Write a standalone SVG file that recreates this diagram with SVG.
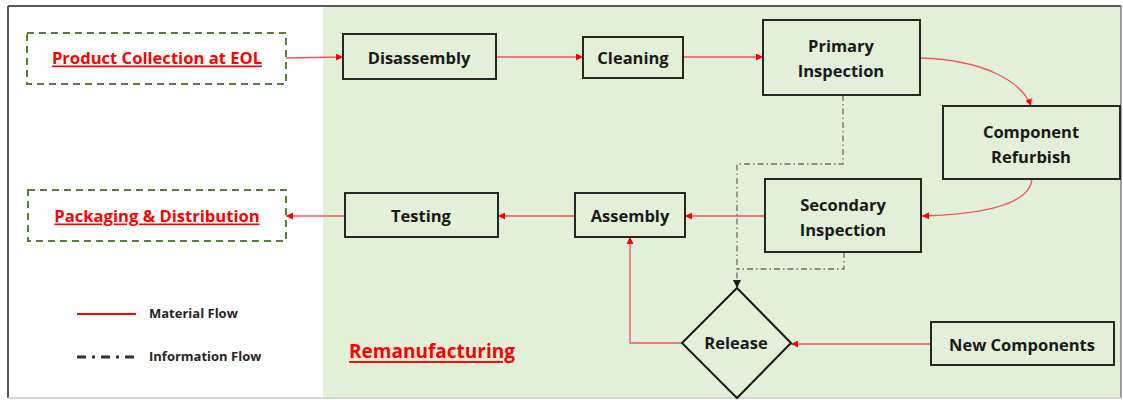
<svg xmlns="http://www.w3.org/2000/svg" width="1123" height="400" viewBox="0 0 1123 400">
  <style>
    .box { fill: none; stroke: #262626; stroke-width: 2; }
    .eol { fill: none; stroke: #548235; stroke-width: 2; stroke-dasharray: 7 5; }
    .lbl { font-family: "Open Sans", "Liberation Sans", sans-serif; font-weight: bold; font-size: 16.5px; fill: #1a1a1a; text-anchor: middle; dominant-baseline: central; }
    .red { font-family: "Open Sans", "Liberation Sans", sans-serif; font-weight: bold; font-size: 16.6px; fill: #ff0000; text-anchor: middle; dominant-baseline: central; text-decoration: underline; }
    .leg { font-family: "Open Sans", "Liberation Sans", sans-serif; font-weight: bold; font-size: 13px; fill: #262626; dominant-baseline: central; }
    .mat { fill: none; stroke: #ff5050; stroke-width: 1.3; marker-end: url(#redArrow); }
    .info { fill: none; stroke: #6f6f6f; stroke-width: 1.3; stroke-dasharray: 6 3 1.5 3; }
  </style>
  <defs>
    <marker id="redArrow" viewBox="0 0 10 10" refX="10" refY="5" markerWidth="7" markerHeight="7" markerUnits="userSpaceOnUse" orient="auto">
      <path d="M0,0 L10,5 L0,10 z" fill="#ff0000"/>
    </marker>
    <marker id="blackArrow" viewBox="0 0 10 10" refX="10" refY="5" markerWidth="8" markerHeight="8" markerUnits="userSpaceOnUse" orient="auto">
      <path d="M0,0 L10,5 L0,10 z" fill="#1a1a1a"/>
    </marker>
  </defs>

  <!-- page background and remanufacturing zone -->
  <rect x="0" y="0" width="1123" height="400" fill="#ffffff"/>
  <rect x="323" y="7" width="798" height="390" fill="#e2efd9"/>
  <g id="frame" fill="none">
    <line x1="8" y1="6" x2="1121" y2="6" stroke="#595959" stroke-width="2"/>
    <line x1="8" y1="6" x2="8" y2="398" stroke="#595959" stroke-width="2"/>
    <line x1="1121" y1="6" x2="1121" y2="398" stroke="#7f7f7f" stroke-width="1.5"/>
    <line x1="8" y1="398" x2="1121" y2="398" stroke="#c8c8c8" stroke-width="1.5"/>
  </g>

  <!-- connectors -->
  <g id="connectors">
    <path class="mat" d="M286,58 L343,57"/>
    <path class="mat" d="M496,57 L583,57"/>
    <path class="mat" d="M683,57 L763,57"/>
    <path class="mat" d="M921,58 C985,60 1022,82 1031,106"/>
    <path class="mat" d="M1032,179 C1030,202 990,214 922,216"/>
    <path class="mat" d="M765,216 L685,216"/>
    <path class="mat" d="M575,216 L498,216"/>
    <path class="mat" d="M345,216 L286,216"/>
    <path class="mat" d="M682,343 L630,343 L630,237"/>
    <path class="mat" d="M931,344 L791,344"/>
    <path class="info" d="M843,95 L843,164 L737,164 L737,288" marker-end="url(#blackArrow)"/>
    <path class="info" d="M844,252 L844,269 L737,269"/>
  </g>

  <!-- nodes -->
  <g id="product-collection">
    <rect class="eol" x="27" y="33" width="259" height="51"/>
    <text class="red" x="157" y="57">Product Collection at EOL</text>
  </g>
  <g id="disassembly">
    <rect class="box" x="343" y="34" width="153" height="45"/>
    <text class="lbl" x="419" y="57">Disassembly</text>
  </g>
  <g id="cleaning">
    <rect class="box" x="583" y="37" width="100" height="41"/>
    <text class="lbl" x="633" y="57">Cleaning</text>
  </g>
  <g id="primary-inspection">
    <rect class="box" x="763" y="20" width="157" height="75"/>
    <text class="lbl" x="841" y="45">Primary</text>
    <text class="lbl" x="841" y="70">Inspection</text>
  </g>
  <g id="component-refurbish">
    <rect class="box" x="943" y="106" width="177" height="73"/>
    <text class="lbl" x="1031" y="131">Component</text>
    <text class="lbl" x="1031" y="156">Refurbish</text>
  </g>
  <g id="secondary-inspection">
    <rect class="box" x="765" y="179" width="156" height="73"/>
    <text class="lbl" x="843" y="204">Secondary</text>
    <text class="lbl" x="843" y="229">Inspection</text>
  </g>
  <g id="assembly">
    <rect class="box" x="575" y="193" width="110" height="44"/>
    <text class="lbl" x="630" y="215">Assembly</text>
  </g>
  <g id="testing">
    <rect class="box" x="345" y="193" width="153" height="44"/>
    <text class="lbl" x="421" y="215">Testing</text>
  </g>
  <g id="packaging-distribution">
    <rect class="eol" x="28" y="190" width="258" height="51"/>
    <text class="red" x="157" y="215">Packaging &amp; Distribution</text>
  </g>
  <g id="release">
    <polygon points="737,288 791,343 737,398 682,343" fill="none" stroke="#1a1a1a" stroke-width="2"/>
    <text class="lbl" x="736" y="342">Release</text>
  </g>
  <g id="new-components">
    <rect class="box" x="931" y="322" width="183" height="43"/>
    <text class="lbl" x="1022" y="344">New Components</text>
  </g>

  <!-- zone title -->
  <text class="red" x="432" y="351" style="font-size:19px">Remanufacturing</text>

  <!-- legend -->
  <g id="legend">
    <line x1="77" y1="314" x2="136" y2="314" stroke="#ff0000" stroke-width="2"/>
    <text class="leg" x="149" y="313">Material Flow</text>
    <line x1="77" y1="357" x2="136" y2="357" stroke="#333333" stroke-width="3" stroke-dasharray="9 6 3 6"/>
    <text class="leg" x="149" y="356">Information Flow</text>
  </g>
</svg>
